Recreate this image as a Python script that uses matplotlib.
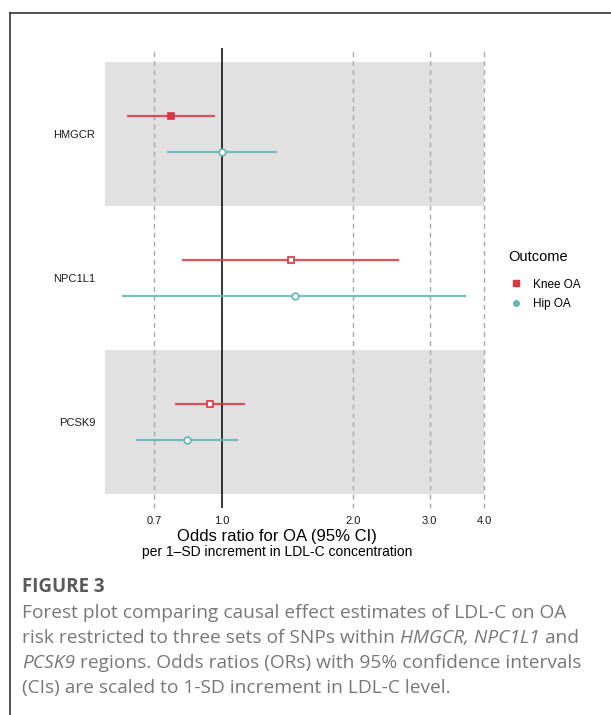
import matplotlib
matplotlib.use('Agg')
import matplotlib.pyplot as plt
from matplotlib.lines import Line2D

# data: odds ratios with 95% CI
genes = ['HMGCR', 'NPC1L1', 'PCSK9']
knee_or = [0.765, 1.44, 0.94]
knee_lo = [0.607, 0.81, 0.78]
knee_hi = [0.968, 2.55, 1.13]
knee_filled = [True, False, False]
hip_or = [1.00, 1.47, 0.835]
hip_lo = [0.75, 0.592, 0.637]
hip_hi = [1.34, 3.63, 1.09]
hip_filled = [False, False, False]
xticks = [0.7, 1.0, 2.0, 3.0, 4.0]
xtick_labels = ['0.7', '1.0', '2.0', '3.0', '4.0']

red = '#DC3440'
teal = '#62B5B5'
W, H = 611, 715

plt.rcParams['font.family'] = ['Liberation Sans', 'DejaVu Sans']

fig = plt.figure(figsize=(W / 100, H / 100), dpi=100)
ax = fig.add_axes([105 / W, 1 - 508 / H, (484 - 105) / W, (508 - 48) / H])
ax.set_xscale('log')
ax.set_xlim(0.54, 4.0)
ax.set_ylim(0.4, 3.6)

ypos = [3, 2, 1]
# grey bands for alternating rows
for i, y in enumerate(ypos):
    if i % 2 == 0:
        ax.axhspan(y - 0.5, y + 0.5, color='#E1E1E1', lw=0, zorder=0)

for x in xticks:
    if x == 1.0:
        ax.axvline(x, color='black', lw=1.1, zorder=1)
    else:
        ax.axvline(x, color='#A8A8A8', lw=1, ls=(0, (3.5, 3)), zorder=1, clip_on=False)

off = 0.125
for i, y in enumerate(ypos):
    ax.hlines(y + off, knee_lo[i], knee_hi[i], color=red, lw=1.6, alpha=0.85, zorder=2)
    ax.plot(knee_or[i], y + off, marker='s', ms=4.6, mec=red, mew=1.2,
            mfc=red if knee_filled[i] else 'white', zorder=3)
    ax.hlines(y - off, hip_lo[i], hip_hi[i], color=teal, lw=1.6, alpha=0.85, zorder=2)
    ax.plot(hip_or[i], y - off, marker='o', ms=4.8, mec=teal, mew=1.2,
            mfc=teal if hip_filled[i] else 'white', zorder=3)

ax.set_yticks(ypos)
ax.set_yticklabels(genes, fontsize=8, color='#1a1a1a')
ax.set_xticks(xticks)
ax.set_xticklabels(xtick_labels, fontsize=8, color='#1a1a1a')
ax.minorticks_off()
ax.tick_params(axis='y', length=0, pad=7)
ax.tick_params(axis='x', length=0, pad=6)
for s in ax.spines.values():
    s.set_visible(False)

fig.text(277 / W, 1 - 537 / H, 'Odds ratio for OA (95% CI)', ha='center', va='center',
         fontsize=12, color='black')
fig.text(277 / W, 1 - 552 / H, 'per 1\u2013SD increment in LDL-C concentration',
         ha='center', va='center', fontsize=10, color='black')

handles = [Line2D([], [], ls='none', marker='s', ms=4, color=red),
           Line2D([], [], ls='none', marker='o', ms=4, color=teal)]
fig.legend(handles, ['Knee OA', 'Hip OA'], loc='upper left',
           bbox_to_anchor=(498 / W, 1 - 268 / H), frameon=False, fontsize=8.5,
           handlelength=1.2, handletextpad=0.9, labelspacing=0.6)
fig.text(508 / W, 1 - 257 / H, 'Outcome', va='center', fontsize=10.5)

# outer frame
fig.add_artist(Line2D([10 / W, 10 / W], [0, 1 - 13 / H], transform=fig.transFigure,
                      color='#333333', lw=1.2))
fig.add_artist(Line2D([10 / W, 1], [1 - 13 / H, 1 - 13 / H], transform=fig.transFigure,
                      color='#333333', lw=1.2))

# caption
cap = fig.add_axes([0, 0, 1, 1], zorder=-1)
cap.set_axis_off()
cap.set_xlim(0, W)
cap.set_ylim(H, 0)
cap_font = dict(family=['Open Sans', 'DejaVu Sans'], fontsize=13.8, color='#777777')
cap.text(22, 587, 'FIGURE 3', va='center', family=['Open Sans', 'DejaVu Sans'],
         fontsize=13.5, fontweight='bold', color='#5a5a5a')
cap.text(22, 613, 'Forest plot comparing causal effect estimates of LDL-C on OA',
         va='center', **cap_font)
t = cap.text(22, 638, 'risk restricted to three sets of SNPs within ', va='center', **cap_font)
t = cap.annotate('HMGCR, NPC1L1', xy=(1, 0), xycoords=t, va='bottom', style='italic', **cap_font)
cap.annotate(' and', xy=(1, 0), xycoords=t, va='bottom', **cap_font)
t = cap.text(22, 663, 'PCSK9', va='center', style='italic', **cap_font)
cap.annotate(' regions. Odds ratios (ORs) with 95% confidence intervals',
             xy=(1, 0), xycoords=t, va='bottom', **cap_font)
cap.text(22, 688, '(CIs) are scaled to 1-SD increment in LDL-C level.', va='center', **cap_font)

fig.savefig('out.png', dpi=100)
